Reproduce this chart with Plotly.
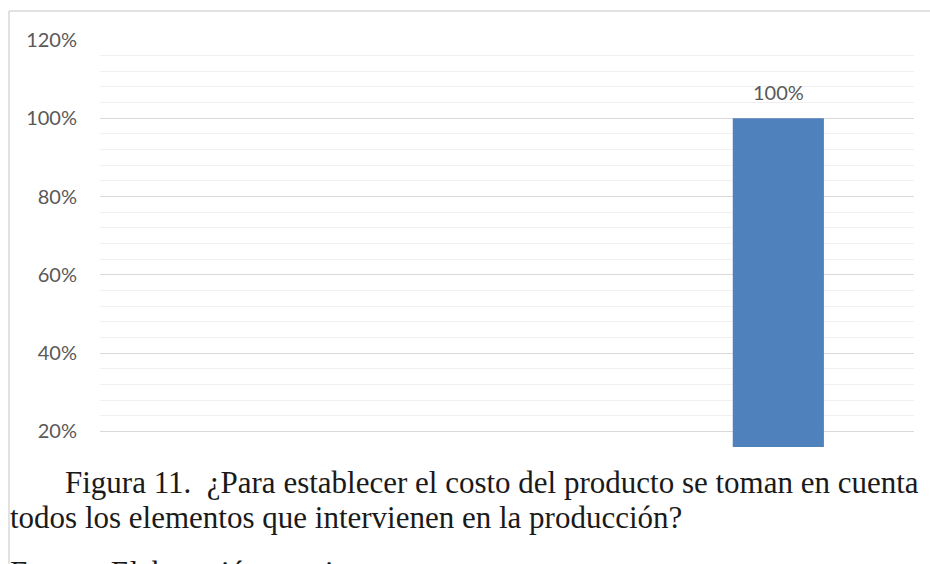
import plotly.graph_objects as go

# Survey answers and share of respondents
categories = ["No", "A veces", "Sí"]
shares = [0.0, 0.0, 1.0]

caption_line1 = "Figura 11.\u00a0\u00a0¿Para establecer el costo del producto se toman en cuenta"
caption_line2 = "todos los elementos que intervienen en la producción?"
caption_line3 = "Fuente: Elaboración propia"

W, H = 930, 564
L, R, T, B = 100, 16, 40, 117


def px_x(p):
    return (p - L) / (W - L - R)


def px_y(p):
    return (H - B - p) / (H - T - B)


fig = go.Figure(
    go.Bar(
        x=categories,
        y=shares,
        base=0,
        marker=dict(color="#4f81bd", line=dict(width=0)),
        cliponaxis=False,
        width=0.336,
    )
)

# value labels above the non-empty bars
value_annotations = [
    dict(x=c, y=v, xref="x", yref="y", text=f"{v:.0%}", showarrow=False,
         yanchor="bottom", yshift=12,
         font=dict(family="Lato", size=20, color="#595959"))
    for c, v in zip(categories, shares) if v > 0
]

caption_font = dict(family="Liberation Serif", size=31, color="#1a1a1a")

fig.update_layout(
    width=W,
    height=H,
    margin=dict(l=L, r=R, t=T, b=B),
    paper_bgcolor="white",
    plot_bgcolor="white",
    showlegend=False,
    font=dict(family="Lato", color="#595959"),
    xaxis=dict(
        showticklabels=False,
        showgrid=False,
        zeroline=False,
        showline=False,
        ticks="",
    ),
    yaxis=dict(
        range=[0.16, 1.2],
        tick0=0,
        dtick=0.2,
        tickformat=".0%",
        tickfont=dict(family="Lato", size=20, color="#595959"),
        showgrid=True,
        gridcolor="#d9d9d9",
        gridwidth=1,
        zeroline=False,
        showline=False,
        ticks="",
        ticklabelstandoff=22,
        minor=dict(dtick=0.04, tick0=0, showgrid=True, gridcolor="#f0f0f0", gridwidth=1),
    ),
    shapes=[
        dict(type="line", xref="paper", yref="paper",
             x0=px_x(9), x1=px_x(940), y0=px_y(11), y1=px_y(11),
             line=dict(color="#d9d9d9", width=1.5)),
        dict(type="line", xref="paper", yref="paper",
             x0=px_x(9), x1=px_x(9), y0=px_y(11), y1=px_y(580),
             line=dict(color="#d9d9d9", width=1.5)),
    ],
    annotations=value_annotations + [
        dict(text=caption_line1, xref="paper", yref="paper",
             x=px_x(63), y=px_y(482), xanchor="left", yanchor="middle",
             showarrow=False, font=caption_font),
        dict(text=caption_line2, xref="paper", yref="paper",
             x=px_x(8), y=px_y(517), xanchor="left", yanchor="middle",
             showarrow=False, font=caption_font),
        dict(text=caption_line3, xref="paper", yref="paper",
             x=px_x(8), y=px_y(572), xanchor="left", yanchor="middle",
             showarrow=False, font=caption_font),
    ],
)

fig.write_html("out.html")
